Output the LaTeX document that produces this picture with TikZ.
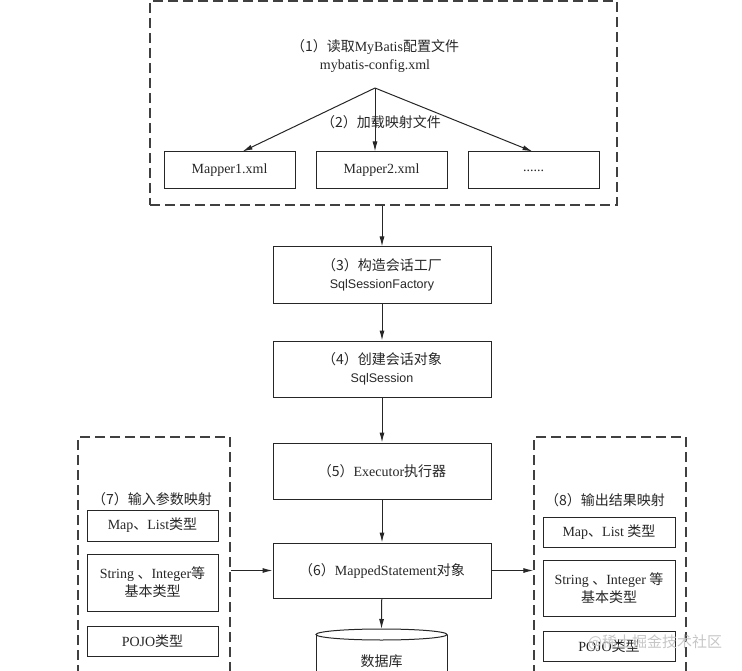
\documentclass[tikz,border=0pt]{standalone}
\usepackage{fontspec}
\setmainfont{Liberation Serif}
\newfontfamily\zhfont{Noto Sans CJK SC}
\newfontfamily\sqlfont{Liberation Sans}
\newcommand{\zh}[1]{{\zhfont #1}}
\usetikzlibrary{arrows.meta,positioning,calc}

\begin{document}
\begin{tikzpicture}[x=1pt,y=-1pt] % one unit is one pixel of the reference
\tikzset{every node/.style={font=\fontsize{14}{18}\selectfont, align=center, inner sep=0pt, text=black!85}} % all texts share one size
\tikzset{box/.style={draw=black!85, line width=1pt, minimum width=131pt}} % solid frames
\tikzset{dashbox/.style={draw=black!75, line width=1.3pt, dash pattern=on 10pt off 5pt}} % dashed groups
\tikzset{arr/.style={draw=black!85, line width=1pt, -{Latex[length=10pt,width=5pt]}}} % connectors
\clip (0,0) rectangle (742,671);
% configuration group
\node[dashbox, minimum width=467pt, minimum height=204pt] (cfg) at (383.5,103) {};
\node (read) at (375,56) {\zh{（1）读取}MyBatis\zh{配置文件}\\mybatis-config.xml};
\coordinate (fork) at (375,88);
\node (load) at (381,122) {\zh{（2）加载映射文件}};
\node[box, minimum height=37pt] (m1) at (229.5,170.5) {Mapper1.xml};
\node[box, minimum height=37pt] (m2) at (381.5,170.5) {Mapper2.xml};
\node[box, minimum height=37pt] (m3) at (533.5,170.5) {......};
% main chain
\node[box, minimum width=218pt, minimum height=56pt] (fac) at (382,275) {\zh{（3）构造会话工厂}\\{\sqlfont\fontsize{12.5}{15}\selectfont SqlSessionFactory}};
\node[box, minimum width=218pt, minimum height=56pt] (ses) at (382,369) {\zh{（4）创建会话对象}\\{\sqlfont\fontsize{12.5}{15}\selectfont SqlSession}};
\node[box, minimum width=218pt, minimum height=56pt] (exe) at (382,471) {\zh{（5）}Executor\zh{执行器}};
\node[box, minimum width=218pt, minimum height=55pt] (ms) at (382,570.5) {\zh{（6）}MappedStatement\zh{对象}};
% database
\draw[draw=black!85, line width=1pt] (316,634.5) -- (316,700) (447,634.5) -- (447,700);
\draw[draw=black!85, line width=1pt] (381.5,634.5) ellipse [x radius=65.5pt, y radius=5.5pt];
\coordinate (dbtop) at (381.5,629);
\node (db) at (381.5,661) {\zh{数据库}};
% input mapping
\node[dashbox, minimum width=152pt, minimum height=263pt] (in) at (154,568.5) {};
\node (inlbl) at (152,499) {\zh{（7）输入参数映射}};
\node[box, minimum height=31pt] (in1) at (152.5,525.5) {Map\zh{、}List\zh{类型}};
\node[box, minimum height=57pt] (in2) at (152.5,582.5) {String \zh{、}Integer\zh{等}\\\zh{基本类型}};
\node[box, minimum height=30pt] (in3) at (152.5,641) {POJO\zh{类型}};
% output mapping
\node[dashbox, minimum width=152pt, minimum height=263pt] (out) at (610,568.5) {};
\node (outlbl) at (605,500) {\zh{（8）输出结果映射}};
\node[box, minimum width=132pt, minimum height=30pt] (out1) at (609,532) {Map\zh{、}List \zh{类型}};
\node[box, minimum width=132pt, minimum height=56pt] (out2) at (609,588) {String \zh{、}Integer \zh{等}\\\zh{基本类型}};
\node[box, minimum width=132pt, minimum height=30pt] (out3) at (609,646) {POJO\zh{类型}};
\node[font=\zhfont\fontsize{15}{15}\selectfont, text=gray!45] (mark) at (655,642) {@稀土掘金技术社区};
% connectors
\draw[arr] (fork) -- ([xshift=13pt]m1.north);
\draw[arr] (fork) -- (fork |- m2.north);
\draw[arr] (fork) -- ([xshift=-1pt]m3.north);
\draw[arr] (fac.north |- cfg.south) -- (fac);
\draw[arr] (fac) -- (ses);
\draw[arr] (ses) -- (exe);
\draw[arr] (exe) -- (ms);
\draw[arr] (ms) -- (dbtop);
\draw[arr] (in.east |- ms.west) -- (ms.west);
\draw[arr] (ms.east) -- (out.west |- ms.east);
\end{tikzpicture}
\end{document}
